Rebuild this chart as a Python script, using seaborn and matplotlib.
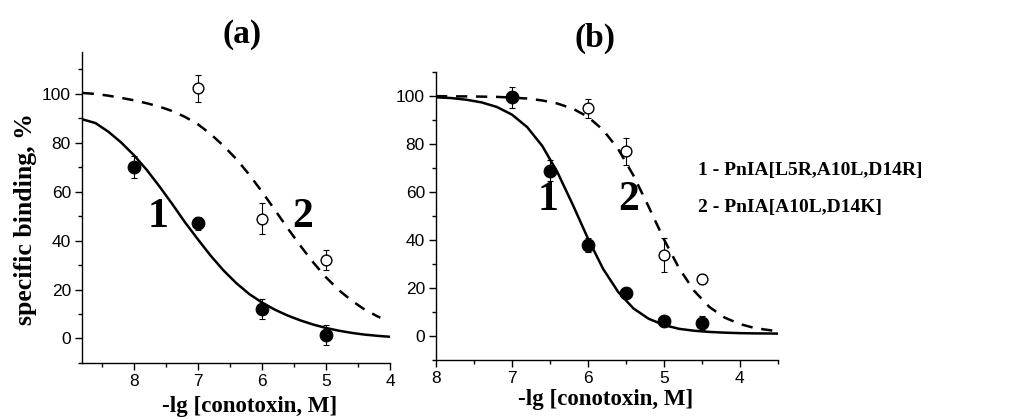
import numpy as np
import pandas as pd
import seaborn as sns
import matplotlib.pyplot as plt
from matplotlib.ticker import MultipleLocator

# ---- data ----
# panel (a): measured points
a_x_filled = [8, 7, 6, 5]
a_y_filled = [70, 47, 12, 1.5]
a_err_filled = [4.5, 2.5, 4, 4]
a_x_open = [7, 6, 5]
a_y_open = [102.3, 49, 32]
a_err_open = [5.5, 6.5, 4]

# panel (a): fitted curves
a_fit1_x = [8.8, 8.6, 8.4, 8.2, 8.0, 7.8, 7.6, 7.4, 7.2, 7.0, 6.8, 6.6, 6.4,
            6.2, 6.0, 5.8, 5.6, 5.4, 5.2, 5.0, 4.8, 4.6, 4.4, 4.2, 4.0]
a_fit1_y = [89.5, 88.0, 84.5, 80.1, 74.9, 68.9, 62.1, 54.9, 47.4, 40.5, 33.8,
            27.8, 22.6, 18.2, 14.7, 11.8, 9.4, 7.4, 5.7, 4.3, 3.2, 2.3, 1.6, 1.1, 0.7]
a_fit2_x = [8.8, 8.6, 8.4, 8.2, 8.0, 7.8, 7.6, 7.4, 7.2, 7.0, 6.8, 6.6, 6.4,
            6.2, 6.0, 5.8, 5.6, 5.4, 5.2, 5.0, 4.8, 4.6, 4.4, 4.2, 4.15]
a_fit2_y = [100.3, 99.9, 99.2, 98.3, 97.3, 96.1, 94.7, 92.9, 90.5, 87.5, 83.5,
            78.7, 73.3, 67.0, 60.0, 52.6, 45.1, 37.9, 31.1, 25.0, 19.8, 15.5,
            11.9, 9.1, 8.5]

# panel (b): measured points
b_x_filled = [7, 6.5, 6, 5.5, 5, 4.5]
b_y_filled = [99.5, 69, 38, 17.8, 6.2, 5.5]
b_err_filled = [4.5, 4.5, 3, 1.5, 1.5, 3]
b_x_open = [6, 5.5, 5, 4.5]
b_y_open = [95, 77, 33.7, 23.7]
b_err_open = [4, 5.5, 7, 2]

# panel (b): fitted curves
b_fit1_x = [8.0, 7.8, 7.6, 7.4, 7.2, 7.0, 6.8, 6.6, 6.4, 6.2, 6.0, 5.8, 5.6,
            5.4, 5.2, 5.0, 4.8, 4.6, 4.4, 4.2, 4.0, 3.8, 3.6, 3.5]
b_fit1_y = [99.5, 99.2, 98.5, 97.4, 95.5, 92.3, 87.1, 79.2, 68.2, 54.8, 40.7,
            28.0, 18.3, 11.5, 7.2, 4.6, 3.0, 2.2, 1.7, 1.4, 1.2, 1.1, 1.05, 1.0]
b_fit2_x = [8.0, 7.8, 7.6, 7.4, 7.2, 7.0, 6.8, 6.6, 6.4, 6.2, 6.0, 5.8, 5.6,
            5.4, 5.2, 5.0, 4.8, 4.6, 4.4, 4.2, 4.0, 3.8, 3.6, 3.5]
b_fit2_y = [100.0, 99.9, 99.9, 99.8, 99.7, 99.4, 99.0, 98.2, 96.9, 94.8, 91.4,
            85.9, 77.9, 66.9, 53.9, 40.4, 28.3, 18.8, 12.1, 7.7, 5.0, 3.3, 2.4, 2.0]

legend_lines = ["1 - PnIA[L5R,A10L,D14R]", "2 - PnIA[A10L,D14K]"]

sns.set_style("ticks")
plt.rcParams['font.family'] = ['Liberation Sans', 'DejaVu Sans']
plt.rcParams['text.color'] = 'black'
plt.rcParams['axes.labelcolor'] = 'black'
plt.rcParams['xtick.color'] = 'black'
plt.rcParams['ytick.color'] = 'black'
plt.rcParams['axes.edgecolor'] = 'black'
SERIF = ['Liberation Serif', 'DejaVu Serif']

fig = plt.figure(figsize=(10.14, 4.19), dpi=100)
ax_a = fig.add_axes([0.0809, 0.1337, 0.3037, 0.742])
ax_b = fig.add_axes([0.430, 0.1408, 0.337, 0.687])


def draw_panel(ax, fit1, fit2, filled, opened):
    df1 = pd.DataFrame({"x": fit1[0], "y": fit1[1]})
    df2 = pd.DataFrame({"x": fit2[0], "y": fit2[1]})
    sns.lineplot(data=df1, x="x", y="y", ax=ax, color="black", lw=1.8,
                 sort=False, estimator=None)
    sns.lineplot(data=df2, x="x", y="y", ax=ax, color="black", lw=1.8,
                 linestyle=(0, (4.5, 3.5)), sort=False, estimator=None)

    ax.errorbar(filled[0], filled[1], yerr=filled[2], fmt="none",
                ecolor="black", elinewidth=0.8, capsize=2.5, capthick=0.8)
    ax.errorbar(opened[0], opened[1], yerr=opened[2], fmt="none",
                ecolor="black", elinewidth=0.8, capsize=2.5, capthick=0.8)
    sns.scatterplot(x=filled[0], y=filled[1], ax=ax, color="black",
                    edgecolor="black", s=85, marker="o", zorder=5)
    sns.scatterplot(x=opened[0], y=opened[1], ax=ax, color="white",
                    edgecolor="black", linewidth=1.0, s=60, marker="o", zorder=5)

    sns.despine(ax=ax)
    ax.xaxis.set_major_locator(MultipleLocator(1))
    ax.xaxis.set_minor_locator(MultipleLocator(0.5))
    ax.yaxis.set_major_locator(MultipleLocator(20))
    ax.yaxis.set_minor_locator(MultipleLocator(10))
    ax.tick_params(which="major", length=5, width=1, labelsize=12.5, pad=3,
                   color="black", labelcolor="black")
    ax.tick_params(which="minor", length=3, width=1, color="black")
    for s in ax.spines.values():
        s.set_linewidth(1)
        s.set_color("black")
    ax.set_xlabel("-lg [conotoxin, M]", fontsize=16.5, fontweight="bold",
                  family=SERIF, va="top", color="black")
    ax.set_ylabel("")


draw_panel(ax_a, (a_fit1_x, a_fit1_y), (a_fit2_x, a_fit2_y),
           (a_x_filled, a_y_filled, a_err_filled),
           (a_x_open, a_y_open, a_err_open))
ax_a.set_xlim(8.81, 4)
ax_a.set_ylim(-10, 117)
ax_a.set_ylabel("specific binding, %", fontsize=18.5, fontweight="bold",
                family=SERIF, color="black")
ax_a.yaxis.set_label_coords(-0.147, 0.463)
ax_a.xaxis.set_label_coords(0.545, -0.105)
ax_a.text(0.52, 1.055, "(a)", transform=ax_a.transAxes, ha="center", va="center",
          fontsize=24, fontweight="bold", family=SERIF)
ax_a.text(7.63, 49.6, "1", ha="center", va="center", fontsize=30,
          fontweight="bold", family=SERIF)
ax_a.text(5.36, 49.6, "2", ha="center", va="center", fontsize=30,
          fontweight="bold", family=SERIF)

draw_panel(ax_b, (b_fit1_x, b_fit1_y), (b_fit2_x, b_fit2_y),
           (b_x_filled, b_y_filled, b_err_filled),
           (b_x_open, b_y_open, b_err_open))
ax_b.set_xlim(8, 3.5)
ax_b.set_ylim(-10, 110)
ax_b.xaxis.set_label_coords(0.497, -0.10)
ax_b.text(0.465, 1.118, "(b)", transform=ax_b.transAxes, ha="center", va="center",
          fontsize=24, fontweight="bold", family=SERIF)
ax_b.text(6.53, 56.7, "1", ha="center", va="center", fontsize=30,
          fontweight="bold", family=SERIF)
ax_b.text(5.47, 56.7, "2", ha="center", va="center", fontsize=30,
          fontweight="bold", family=SERIF)
for i, line in enumerate(legend_lines):
    ax_b.text(0.766, 0.66 - i * 0.129, line, transform=ax_b.transAxes,
              ha="left", va="center", fontsize=14, fontweight="bold",
              family=SERIF, clip_on=False)

fig.savefig("out.png", dpi=100)
plt.close(fig)
